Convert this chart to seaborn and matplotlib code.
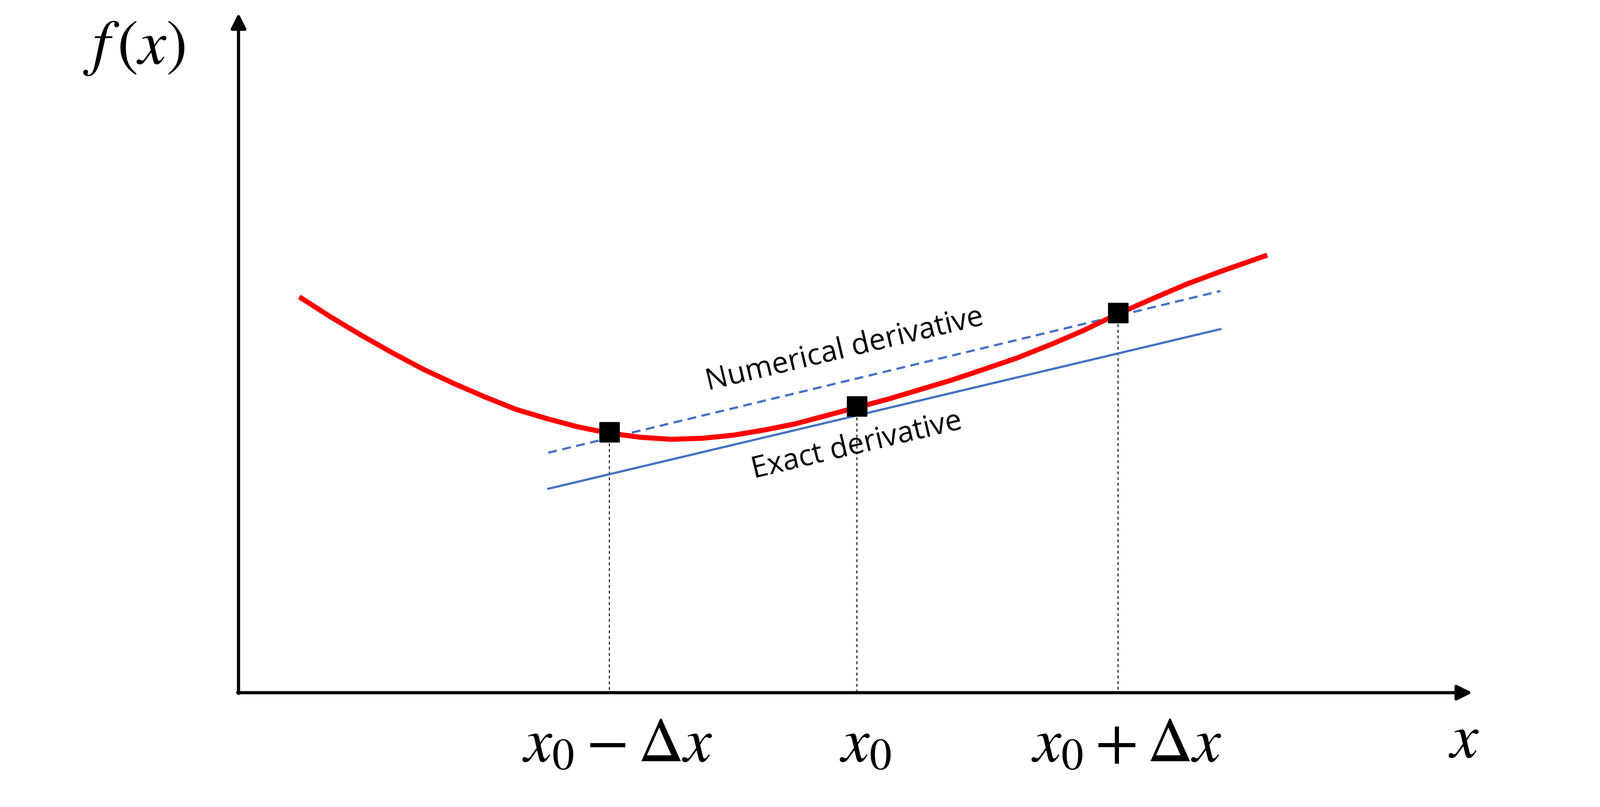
import numpy as np
import matplotlib
matplotlib.use("Agg")
from matplotlib import pyplot as plt
import seaborn as sns

# picture coordinates (x to the right, y downwards)
curve_x = [292, 320, 350, 380, 410, 440, 470, 500, 530, 560, 590, 620, 650, 680, 710, 740,
           770, 800, 830, 860, 890, 920, 950, 985, 1020, 1050, 1083, 1115, 1150, 1185, 1225]
curve_y = [290, 308, 326, 343, 359, 373, 386, 398, 407, 415, 421, 425, 427, 426, 423, 418,
           412, 404, 396, 388, 379, 370, 360, 348, 334, 321, 305, 291, 276, 263, 249]

exact_x = [531, 1182]
exact_y = [475, 320]
numeric_x = [531, 1182]
numeric_y = [440, 283]

point_x = [590, 830, 1083]
point_y = [420, 395, 304]
tick_labels = [r"$x_0 - \Delta x$", r"$x_0$", r"$x_0 + \Delta x$"]

origin = (231, 673)
blue = "#4472C4"


def main():
    plt.rcParams["mathtext.fontset"] = "stix"
    fig = plt.figure(figsize=(35.3, 17.81), dpi=100)
    ax = fig.add_axes([0, 0, 1, 1])
    ax.set_xlim(0, 1550)
    ax.set_ylim(784, 0)
    ax.axis("off")

    # axes with arrows
    ax.annotate("", xy=(1427, origin[1]), xytext=(origin[0] - 2, origin[1]),
                arrowprops=dict(arrowstyle="-|>", lw=5, color="black", mutation_scale=50))
    ax.annotate("", xy=(origin[0], 12), xytext=(origin[0], origin[1] + 2),
                arrowprops=dict(arrowstyle="-|>", lw=5, color="black", mutation_scale=50))

    for px, py in zip(point_x, point_y):
        ax.plot([px, px], [py, origin[1]], ls=(0, (3, 3)), lw=1.5, color="black")

    sns.lineplot(x=exact_x, y=exact_y, ax=ax, color=blue, lw=3.5, sort=False)
    sns.lineplot(x=numeric_x, y=numeric_y, ax=ax, color=blue, lw=3.5, sort=False,
                 linestyle=(0, (4, 2.5)))
    sns.lineplot(x=curve_x, y=curve_y, ax=ax, color="#FF0000", lw=8, sort=False,
                 solid_joinstyle="round")
    sns.scatterplot(x=point_x, y=point_y, ax=ax, color="black", marker="s", s=900,
                    edgecolor="black", zorder=5)

    ang = np.degrees(np.arctan2(exact_y[0] - exact_y[1], exact_x[1] - exact_x[0]))
    ax.text(818, 340, "Numerical derivative", rotation=ang, fontsize=47,
            family="Open Sans", ha="center", va="center", rotation_mode="anchor")
    ax.text(830, 433, "Exact derivative", rotation=ang, fontsize=47,
            family="Open Sans", ha="center", va="center", rotation_mode="anchor")

    for px, lab in zip(point_x, tick_labels):
        ax.text(px + 8, 722, lab, fontsize=100, ha="center", va="center")
    ax.text(1418, 718, r"$x$", fontsize=100, ha="center", va="center")
    ax.text(130, 45, r"$f\,(x)$", fontsize=100, ha="center", va="center")

    fig.savefig("out.png", dpi=100, facecolor="white")


if __name__ == "__main__":
    main()
